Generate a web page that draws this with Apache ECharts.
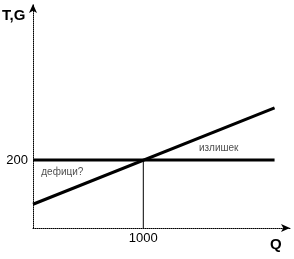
<!DOCTYPE html>
<html><head><meta charset="utf-8">
<script src="https://cdn.jsdelivr.net/npm/echarts@6/dist/echarts.min.js"></script>
<style>html,body{margin:0;padding:0;background:#fff}#c{width:294px;height:259px}</style>
</head><body><div id="c"></div>
<script>
const tLine = [[0, 70], [2190, 354]];
const gLine = [[0, 200], [2190, 200]];
const dropLine = [[1000, 0], [1000, 200]];
const xTicks = [1000];
const yTicks = [200];
const notes = [
  {text: 'дефици?', x: 75, y: 165},
  {text: 'излишек', x: 1505, y: 236}
];
const chart = echarts.init(document.getElementById('c'));
const axisLine = {show: true, lineStyle: {color: '#000', type: 'dotted', width: 1}, symbol: ['none', 'arrow'], symbolSize: [6, 9]};
chart.setOption({
  animation: false,
  grid: {left: 33, right: 4, top: 4, bottom: 31},
  xAxis: {type: 'value', min: 0, max: 2330, interval: 1000,
    axisLine: axisLine, axisTick: {show: false}, splitLine: {show: false},
    axisLabel: {formatter: v => xTicks.includes(v) ? String(v) : '', color: '#000', fontFamily: 'Liberation Sans', fontSize: 13, margin: 4}},
  yAxis: {type: 'value', min: 0, max: 660, interval: 200,
    axisLine: axisLine, axisTick: {show: false}, splitLine: {show: false},
    axisLabel: {formatter: v => yTicks.includes(v) ? String(v) : '', color: '#000', fontFamily: 'Liberation Sans', fontSize: 13, margin: 5}},
  graphic: [
    {type: 'text', left: 2, top: 8, style: {text: 'T,G', font: 'bold 15px Liberation Sans', fill: '#000'}},
    {type: 'text', left: 270, top: 237, style: {text: 'Q', font: 'bold 15px Liberation Sans', fill: '#000'}}
  ],
  series: [
    {type: 'line', data: gLine, symbol: 'none', lineStyle: {color: '#000', width: 3}},
    {type: 'line', data: tLine, symbol: 'none', lineStyle: {color: '#000', width: 3}},
    {type: 'line', data: dropLine, symbol: 'none', lineStyle: {color: '#000', width: 1}},
    {type: 'scatter', symbolSize: 0, data: notes.map(n => ({value: [n.x, n.y], name: n.text})),
      label: {show: true, position: 'right', distance: 0, formatter: p => p.name, color: '#222', fontFamily: 'Liberation Sans', fontSize: 10}}
  ]
});
</script></body></html>
